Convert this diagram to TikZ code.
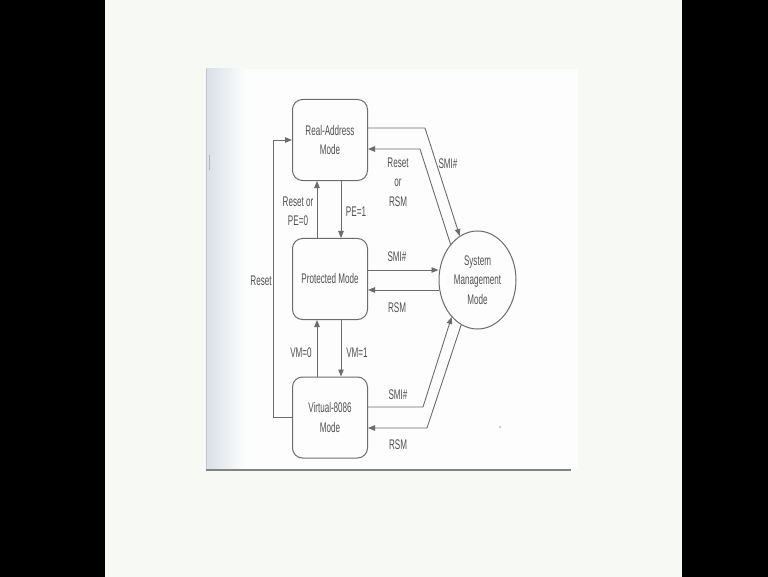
\documentclass[tikz,border=0pt]{standalone}
\usepackage{fontspec}
\setmainfont[FakeStretch=0.58]{Liberation Sans}
\usetikzlibrary{arrows.meta,shapes.geometric}
\definecolor{ink}{HTML}{6C6C6C}
\definecolor{txt}{HTML}{505050}
\definecolor{bgout}{HTML}{F7F9F5}
\definecolor{pagec}{HTML}{FCFDFC}
\definecolor{edgec}{HTML}{DADFE7}
\begin{document}
\begin{tikzpicture}[x=1bp,y=-1bp,
  every node/.style={font=\fontsize{14}{19.5}\selectfont, text=txt},
  modebox/.style={draw=ink, line width=1bp, rounded corners=10bp, minimum width=75bp, minimum height=81bp, align=center, inner sep=0pt},
  smmnode/.style={draw=ink, line width=1bp, ellipse, minimum width=77bp, minimum height=98bp, align=center, inner sep=0pt},
  arr/.style={draw=ink, line width=0.9bp, -{Triangle[length=7bp,width=5.5bp]}},
  lbl/.style={align=center, inner sep=0pt}]
% background
\fill[black] (0,0) rectangle (768,577);
\fill[bgout] (105,0) rectangle (682,577);
\fill[pagec] (206,69) rectangle (578,470);
\shade[left color=edgec, right color=pagec] (206,69) rectangle (245,470);
\draw[gray!45, line width=1bp] (206,69) -- (206,470);
\draw[ink!85, line width=1.5bp] (206,470) -- (571,470);
\draw[gray!55, line width=1bp] (209,155) -- (209,170);
\fill[gray!60] (500,427) circle (1bp);
% nodes
\node[modebox] (real) at (330,140) {Real-Address\\Mode};
\node[modebox] (prot) at (330,279) {Protected Mode};
\node[modebox] (virt) at (330,417.5) {Virtual-8086\\Mode};
\node[smmnode] (smm) at (477.5,280) {System\\Management\\Mode};
% reset loop
\draw[arr] (virt.west) -- ++(-19,0) |- (real.west);
% vertical transitions
\draw[arr] ([xshift=-13bp]prot.north) -- ([xshift=-13bp]real.south);
\draw[arr] ([xshift=11bp]real.south) -- ([xshift=11bp]prot.north);
\draw[arr] ([xshift=-13bp]virt.north) -- ([xshift=-13bp]prot.south);
\draw[arr] ([xshift=11bp]prot.south) -- ([xshift=11bp]virt.north);
% real <-> smm
\draw[arr] ([yshift=12bp]real.east) -- (425,128) -- (smm.112);
\draw[arr] (smm.127) -- (420,149) -- ([yshift=-9bp]real.east);
% protected <-> smm
\coordinate (p1) at ([yshift=9bp]prot.east);
\coordinate (p2) at ([yshift=-11bp]prot.east);
\draw[arr] (p1) -- (p1 -| smm.west);
\draw[arr] (p2 -| smm.west) -- (p2);
% virtual <-> smm
\draw[arr] ([yshift=10.5bp]virt.east) -- (423,407) -- (smm.235);
\draw[arr] (smm.250) -- (427,428) -- ([yshift=-10.5bp]virt.east);
% labels
\node[lbl] (l1) at (448,164) {SMI\#};
\node[lbl] (l2) at (398,182) {Reset\\or\\RSM};
\node[lbl] (l3) at (298,211) {Reset or\\PE=0};
\node[lbl] (l4) at (356,212) {PE=1};
\node[lbl] (l5) at (397,257) {SMI\#};
\node[lbl] (l6) at (397,308) {RSM};
\node[lbl] (l7) at (261,281) {Reset};
\node[lbl] (l8) at (301,353) {VM=0};
\node[lbl] (l9) at (357,353) {VM=1};
\node[lbl] (l10) at (398,395) {SMI\#};
\node[lbl] (l11) at (398,445) {RSM};
\end{tikzpicture}
\end{document}
